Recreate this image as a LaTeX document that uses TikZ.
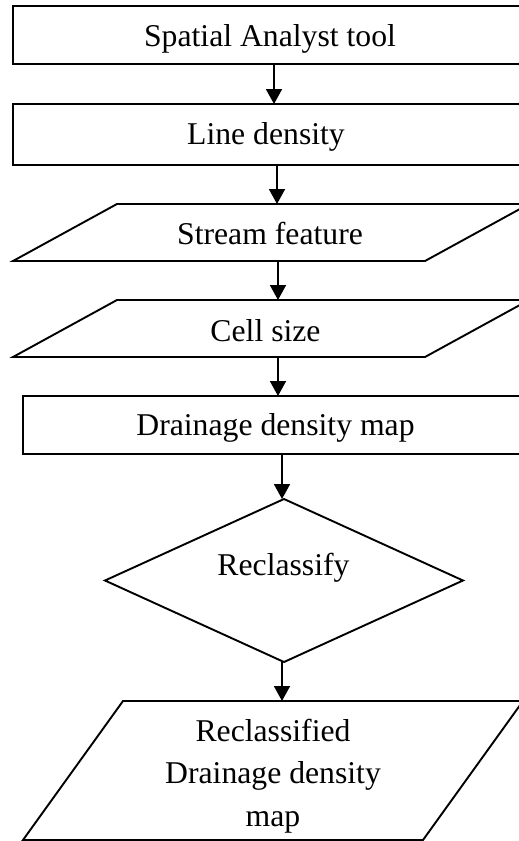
\documentclass[tikz,border=0pt]{standalone}
\usepackage{fontspec}
\setmainfont{Liberation Serif}
\usetikzlibrary{arrows.meta,shapes.geometric}
\begin{document}
\begin{tikzpicture}[x=1bp,y=-1bp,
  shp/.style={draw=black,line width=1.9bp,inner sep=0pt,outer sep=0pt},
  boxnode/.style={shp,rectangle},
  ghost/.style={inner sep=0pt,outer sep=0pt,rectangle},
  txt/.style={inner sep=0pt,font=\fontsize{31.7bp}{42.4bp}\selectfont},
  arr/.style={line width=1.9bp,-{Triangle[width=16bp,length=15bp]}}]
\useasboundingbox (0,0) rectangle (519,841);
\clip (0,0) rectangle (519,841);
\fill[white] (0,0) rectangle (519,841);
% shapes
\node[boxnode,minimum width=518bp,minimum height=58bp] (b1) at (272,35) {};
\node[boxnode,minimum width=518bp,minimum height=61bp] (b2) at (272,134.5) {};
\node[ghost,minimum width=412bp,minimum height=57bp] (sf) at (271,232.5) {};
\draw[shp] ([xshift=52bp]sf.north west) -- ([xshift=52bp]sf.north east) -- ([xshift=-52bp]sf.south east) -- ([xshift=-52bp]sf.south west) -- cycle;
\node[ghost,minimum width=412bp,minimum height=57bp] (cs) at (271,328.5) {};
\draw[shp] ([xshift=52bp]cs.north west) -- ([xshift=52bp]cs.north east) -- ([xshift=-52bp]cs.south east) -- ([xshift=-52bp]cs.south west) -- cycle;
\node[boxnode,minimum width=504bp,minimum height=58bp] (b3) at (275,425) {};
\node[shp,diamond,minimum width=358bp,minimum height=163bp] (rc) at (284,580.5) {};
\node[ghost,minimum width=400bp,minimum height=139bp] (rd) at (273,770.5) {};
\draw[shp] ([xshift=50bp]rd.north west) -- ([xshift=50bp]rd.north east) -- ([xshift=-50bp]rd.south east) -- ([xshift=-50bp]rd.south west) -- cycle;
% texts
\node[txt,anchor=base] (t1) at (270,46.7) {Spatial Analyst tool};
\node[txt,anchor=base] (t2) at (266,144.3) {Line density};
\node[txt,anchor=base] (t3) at (270,244.3) {Stream feature};
\node[txt,anchor=base] (t4) at (265.5,341.7) {Cell size};
\node[txt,anchor=base] (t5) at (275.5,435) {Drainage density map};
\node[txt,anchor=base] (t6) at (283.5,575) {Reclassify};
\node[txt,anchor=north,align=center] (t7) at (273,719) {Reclassified\\Drainage density\\map};
% arrow x positions
\coordinate (ax1) at (274,0);
\coordinate (ax2) at (277,0);
\coordinate (ax3) at (278,0);
\coordinate (ax5) at (282,0);
% connectors
\draw[arr] (b1.south -| ax1) -- (b2.north -| ax1);
\draw[arr] (b2.south -| ax2) -- (sf.north -| ax2);
\draw[arr] (sf.south -| ax3) -- (cs.north -| ax3);
\draw[arr] (cs.south -| ax3) -- (b3.north -| ax3);
\draw[arr] (b3.south -| ax5) -- (rc.north -| ax5);
\draw[arr] (rc.south -| ax5) -- (rd.north -| ax5);
\end{tikzpicture}
\end{document}
